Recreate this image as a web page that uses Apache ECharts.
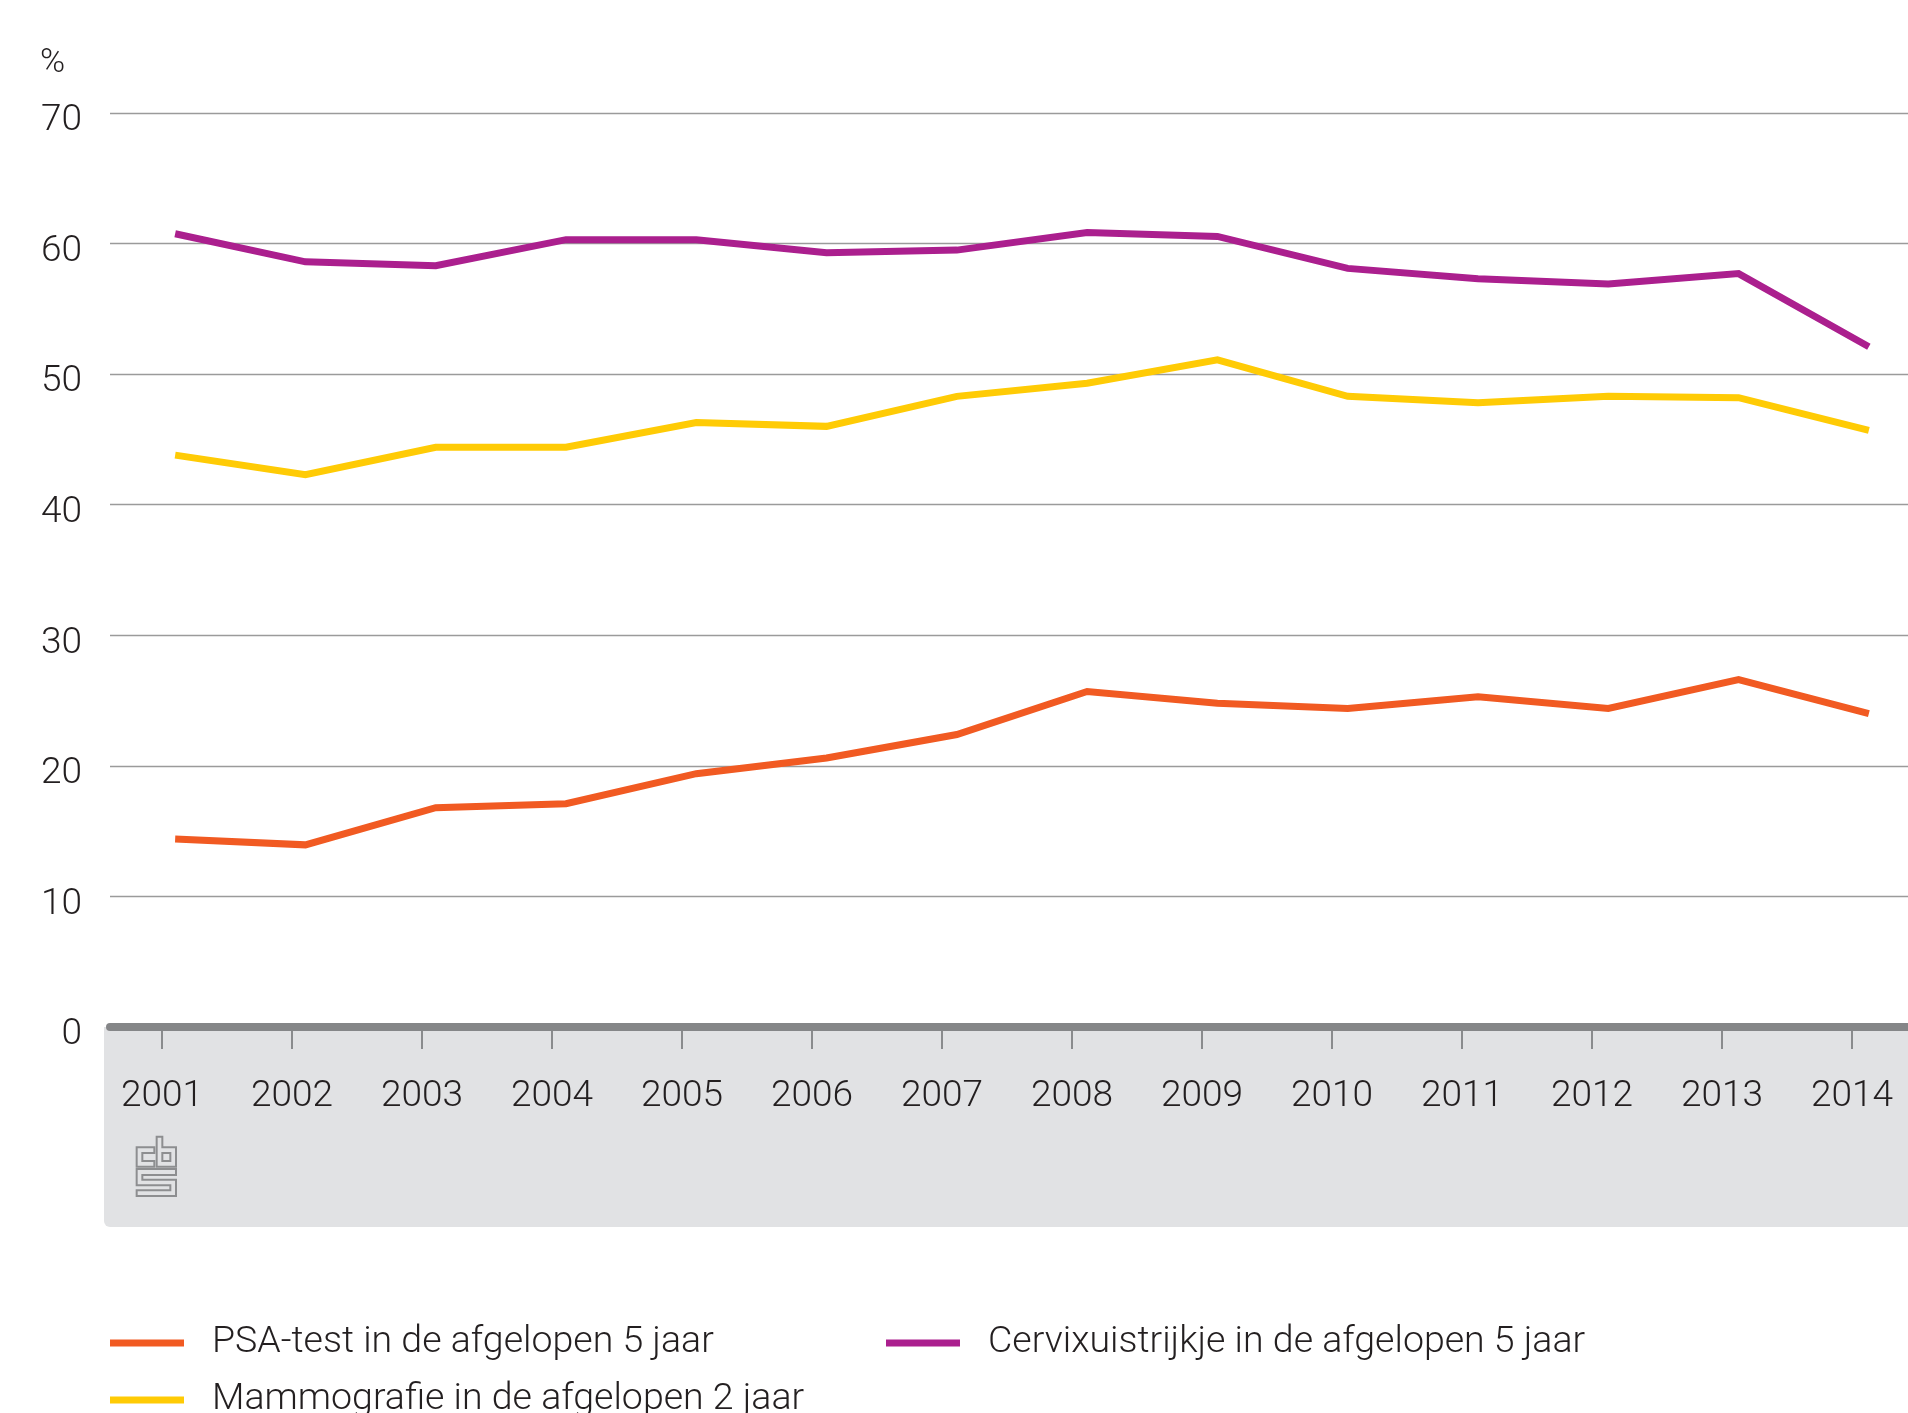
<!DOCTYPE html>
<html>
<head>
<meta charset="utf-8">
<script src="https://cdn.jsdelivr.net/npm/echarts@6/dist/echarts.min.js"></script>
<style>
    html, body { margin: 0; padding: 0; background: #fff; }
    #chart { width: 1908px; height: 1413px; }
</style>
</head>
<body>
<div id="chart"></div>
<script>
const years = ['2001', '2002', '2003', '2004', '2005', '2006', '2007',
    '2008', '2009', '2010', '2011', '2012', '2013', '2014'];

const psaTest = [14.4, 13.95, 16.8, 17.1, 19.4, 20.6, 22.4, 25.7, 24.8, 24.4, 25.3, 24.4, 26.6, 24.0];
const cervix = [60.75, 58.6, 58.3, 60.3, 60.3, 59.3, 59.5, 60.85, 60.55, 58.1, 57.3, 56.9, 57.7, 52.1];
const mammografie = [43.8, 42.3, 44.4, 44.4, 46.3, 46.0, 48.3, 49.3, 51.1, 48.3, 47.8, 48.3, 48.2, 45.7];

const seriesNames = [
    'PSA-test in de afgelopen 5 jaar',
    'Cervixuistrijkje in de afgelopen 5 jaar',
    'Mammografie in de afgelopen 2 jaar'
];
const colors = ['#f15a22', '#ab1f8e', '#ffcb05'];

const FONT = 'Roboto, "Liberation Sans", sans-serif';
const textColor = '#231f20';

const chart = echarts.init(document.getElementById('chart'));

function lineSeries(name, values, color) {
    return {
        name: name,
        type: 'line',
        xAxisIndex: 0,
        yAxisIndex: 0,
        data: values,
        symbol: 'none',
        color: color,
        lineStyle: { width: 7, color: color, cap: 'butt', join: 'miter' },
        z: 5
    };
}

function legendFor(name, left, top) {
    return {
        data: [name],
        left: left,
        top: top,
        padding: 0,
        icon: 'rect',
        itemWidth: 74,
        itemHeight: 7,
        selectedMode: false,
        textStyle: {
            fontFamily: FONT,
            fontWeight: 300,
            fontSize: 37.5,
            lineHeight: 40,
            color: textColor,
            padding: [0, 0, 14, 23]
        }
    };
}

// cbs logo outline, in a 3x coordinate system (scaled down in the group)
const logoShapes = [
    [[88, 67], [35, 67], [35, 125], [88, 125], [88, 108], [52, 108], [52, 84], [88, 84]],
    [[95, 35], [112, 35], [112, 67], [153, 67], [153, 125], [95, 125]],
    [[112, 84], [136, 84], [136, 108], [112, 108]],
    [[35, 132], [153, 132], [153, 150], [52, 150], [52, 164], [153, 164], [153, 213],
        [35, 213], [35, 196], [136, 196], [136, 181], [35, 181]]
];

const option = {
    backgroundColor: '#ffffff',
    animation: false,
    grid: [
        { left: 110, top: 113, width: 1824, bottom: 386, containLabel: false, outerBoundsMode: 'none' },
        { left: 97, top: 113, width: 1820, bottom: 386, containLabel: false, outerBoundsMode: 'none' }
    ],
    xAxis: [
        {
            type: 'category',
            gridIndex: 0,
            data: years,
            boundaryGap: true,
            axisLine: { show: true, lineStyle: { color: '#858688', width: 8 } },
            axisTick: { show: false },
            axisLabel: { show: false },
            splitLine: { show: false },
            z: 3
        },
        {
            type: 'category',
            gridIndex: 1,
            data: years,
            boundaryGap: true,
            axisLine: { show: false },
            axisTick: {
                show: true,
                alignWithLabel: true,
                length: 22,
                lineStyle: { color: '#8a8b8d', width: 2 }
            },
            axisLabel: {
                margin: 51,
                fontFamily: FONT,
                fontWeight: 300,
                fontSize: 37,
                color: textColor
            },
            splitLine: { show: false },
            z: 2
        }
    ],
    yAxis: [
        {
            type: 'value',
            gridIndex: 0,
            min: 0,
            max: 70,
            interval: 10,
            name: '%',
            nameLocation: 'end',
            nameGap: 33,
            nameTextStyle: {
                fontFamily: FONT,
                fontWeight: 300,
                fontSize: 34,
                color: textColor,
                align: 'left',
                padding: [0, 0, 0, -70]
            },
            axisLine: { show: false },
            axisTick: { show: false },
            axisLabel: {
                margin: 28,
                formatter: '{v|{value}}',
                rich: {
                    v: {
                        fontFamily: FONT,
                        fontWeight: 300,
                        fontSize: 37,
                        color: textColor,
                        padding: [16, 0, 0, 0]
                    }
                }
            },
            splitLine: { show: true, lineStyle: { color: '#9b9b9b', width: 1.3 } }
        },
        {
            type: 'value',
            gridIndex: 1,
            min: 0,
            max: 70,
            show: false,
            splitLine: { show: false }
        }
    ],
    legend: [
        legendFor(seriesNames[0], 110, 1316),
        legendFor(seriesNames[1], 886, 1316),
        legendFor(seriesNames[2], 110, 1373)
    ],
    graphic: [
        {
            type: 'rect',
            z: -10,
            shape: { x: 104, y: 1027, width: 1830, height: 200, r: [0, 0, 0, 6] },
            style: { fill: '#e1e2e4' }
        },
        {
            type: 'group',
            x: 125,
            y: 1125,
            scaleX: 1 / 3,
            scaleY: 1 / 3,
            children: logoShapes.map(pts => ({
                type: 'polygon',
                shape: { points: pts },
                style: { fill: null, stroke: '#8d8e90', lineWidth: 6 }
            }))
        }
    ],
    series: [
        lineSeries(seriesNames[0], psaTest, colors[0]),
        lineSeries(seriesNames[1], cervix, colors[1]),
        lineSeries(seriesNames[2], mammografie, colors[2])
    ]
};

chart.setOption(option);
</script>
</body>
</html>
